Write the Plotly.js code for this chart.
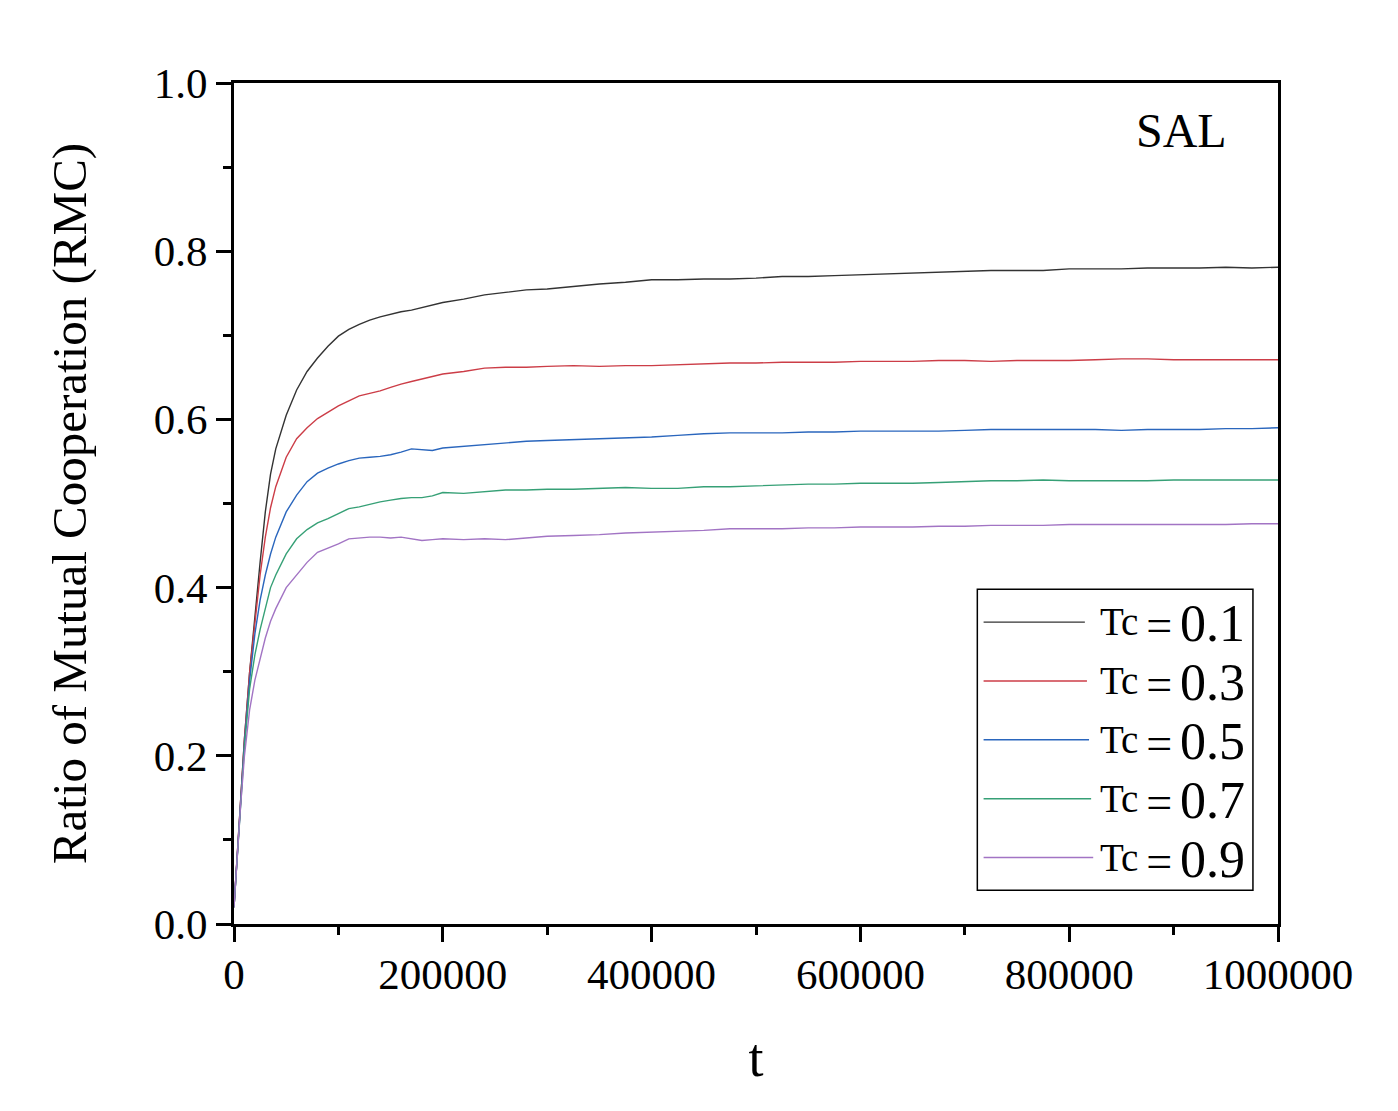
<!DOCTYPE html>
<html>
<head>
<meta charset="utf-8">
<script src="https://cdn.plot.ly/plotly-3.0.1.min.js"></script>
<style>
  html, body { margin: 0; padding: 0; background: #fff; }
  #chart { width: 1398px; height: 1111px; }
</style>
</head>
<body>
<div id="chart"></div>
<script>
// time steps (t)
const T = [
  0, 3000, 6000, 10000, 15000, 20000, 25000, 30000, 35000, 40000,
  50000, 60000, 70000, 80000, 90000, 100000, 110000, 120000, 130000, 140000,
  150000, 160000, 170000, 180000, 190000, 200000, 220000, 240000, 260000, 280000,
  300000, 325000, 350000, 375000, 400000, 425000, 450000, 475000, 500000, 525000,
  550000, 575000, 600000, 625000, 650000, 675000, 700000, 725000, 750000, 775000,
  800000, 825000, 850000, 875000, 900000, 925000, 950000, 975000, 1000000
];

// RMC per Tc
const RMC_01 = [
  0.02, 0.08, 0.14, 0.22, 0.30, 0.37, 0.43, 0.49, 0.535, 0.565,
  0.605, 0.635, 0.657, 0.673, 0.687, 0.699, 0.707, 0.713, 0.718, 0.722,
  0.725, 0.728, 0.730, 0.733, 0.736, 0.739, 0.743, 0.748, 0.751, 0.754,
  0.755, 0.758, 0.761, 0.763, 0.766, 0.766, 0.767, 0.767, 0.768, 0.770,
  0.770, 0.771, 0.772, 0.773, 0.774, 0.775, 0.776, 0.777, 0.777, 0.777,
  0.779, 0.779, 0.779, 0.780, 0.780, 0.780, 0.781, 0.780, 0.781
];
const RMC_03 = [
  0.02, 0.08, 0.14, 0.22, 0.30, 0.36, 0.415, 0.46, 0.495, 0.52,
  0.555, 0.577, 0.59, 0.601, 0.609, 0.616, 0.622, 0.628, 0.631, 0.634,
  0.638, 0.642, 0.645, 0.648, 0.651, 0.654, 0.657, 0.661, 0.662, 0.662,
  0.663, 0.664, 0.663, 0.664, 0.664, 0.665, 0.666, 0.667, 0.667, 0.668,
  0.668, 0.668, 0.669, 0.669, 0.669, 0.670, 0.670, 0.669, 0.670, 0.670,
  0.670, 0.671, 0.672, 0.672, 0.671, 0.671, 0.671, 0.671, 0.671
];
const RMC_05 = [
  0.02, 0.08, 0.14, 0.215, 0.29, 0.345, 0.385, 0.415, 0.44, 0.46,
  0.49, 0.51, 0.526, 0.536, 0.542, 0.547, 0.551, 0.554, 0.555, 0.556,
  0.558, 0.561, 0.565, 0.564, 0.563, 0.566, 0.568, 0.570, 0.572, 0.574,
  0.575, 0.576, 0.577, 0.578, 0.579, 0.581, 0.583, 0.584, 0.584, 0.584,
  0.585, 0.585, 0.586, 0.586, 0.586, 0.586, 0.587, 0.588, 0.588, 0.588,
  0.588, 0.588, 0.587, 0.588, 0.588, 0.588, 0.589, 0.589, 0.590
];
const RMC_07 = [
  0.02, 0.08, 0.14, 0.21, 0.28, 0.32, 0.35, 0.375, 0.40, 0.415,
  0.44, 0.458, 0.469, 0.477, 0.482, 0.488, 0.494, 0.496, 0.499, 0.502,
  0.504, 0.506, 0.507, 0.507, 0.509, 0.513, 0.512, 0.514, 0.516, 0.516,
  0.517, 0.517, 0.518, 0.519, 0.518, 0.518, 0.520, 0.520, 0.521, 0.522,
  0.523, 0.523, 0.524, 0.524, 0.524, 0.525, 0.526, 0.527, 0.527, 0.528,
  0.527, 0.527, 0.527, 0.527, 0.528, 0.528, 0.528, 0.528, 0.528
];
const RMC_09 = [
  0.02, 0.08, 0.135, 0.20, 0.255, 0.29, 0.315, 0.34, 0.36, 0.375,
  0.40, 0.415, 0.43, 0.442, 0.447, 0.452, 0.458, 0.459, 0.460, 0.460,
  0.459, 0.460, 0.458, 0.456, 0.457, 0.458, 0.457, 0.458, 0.457, 0.459,
  0.461, 0.462, 0.463, 0.465, 0.466, 0.467, 0.468, 0.470, 0.470, 0.470,
  0.471, 0.471, 0.472, 0.472, 0.472, 0.473, 0.473, 0.474, 0.474, 0.474,
  0.475, 0.475, 0.475, 0.475, 0.475, 0.475, 0.475, 0.476, 0.476
];

const TC_LABELS = ["0.1", "0.3", "0.5", "0.7", "0.9"];
const SERIES = [RMC_01, RMC_03, RMC_05, RMC_07, RMC_09];
const COLORS = ["#333333", "#cc3d47", "#2a66bd", "#36a076", "#a274c4"];

const X_TICKS = [0, 200000, 400000, 600000, 800000, 1000000];
const Y_TICKS = [0, 0.2, 0.4, 0.6, 0.8, 1.0];

const FONT = "'Liberation Serif', 'Times New Roman', serif";

const traces = SERIES.map((ys, i) => ({
  x: T,
  y: ys,
  type: "scatter",
  mode: "lines",
  name: "Tc = " + TC_LABELS[i],
  line: { color: COLORS[i], width: 1.4 },
  showlegend: false,
}));

// ── hand-drawn legend box (long sample lines like the original) ──────────────
const shapes = [{
  type: "rect", xref: "paper", yref: "paper",
  x0: 0.712, x1: 0.976, y0: 0.040, y1: 0.398,
  line: { color: "#000", width: 1.5 }, fillcolor: "rgba(0,0,0,0)",
}];
const annotations = [{
  xref: "paper", yref: "paper", x: 0.908, y: 0.944,
  xanchor: "center", yanchor: "middle",
  text: "SAL", showarrow: false,
  font: { family: FONT, size: 48, color: "#000" },
}];
const rowTop = 0.359, rowStep = 0.070;
const THIN = "\u2009";
TC_LABELS.forEach((lab, i) => {
  const yy = rowTop - i * rowStep;
  shapes.push({
    type: "line", xref: "paper", yref: "paper",
    x0: 0.718, x1: 0.815 + i * 0.002, y0: yy, y1: yy,
    line: { color: COLORS[i], width: 1.4 },
  });
  annotations.push({
    xref: "paper", yref: "paper", x: 0.970, y: yy - 0.002,
    xanchor: "right", yanchor: "middle",
    text: "<span style='baseline-shift:6px'>Tc</span>" + THIN +
      "<span style='font-size:46px'>=</span>" + THIN +
      "<span style='font-size:52px'>" + lab + "</span>",
    showarrow: false,
    font: { family: FONT, size: 39, color: "#000" },
  });
});

const axisCommon = {
  showline: true, linecolor: "#000", linewidth: 3, mirror: true,
  ticks: "outside", ticklen: 15, tickwidth: 3, tickcolor: "#000",
  showgrid: false, zeroline: false,
  tickfont: { family: FONT, size: 43, color: "#000" },
};

const layout = {
  width: 1398, height: 1111,
  margin: { l: 234, r: 120, t: 83, b: 187 },
  paper_bgcolor: "#fff", plot_bgcolor: "#fff",
  font: { family: FONT, color: "#000" },
  showlegend: false,
  xaxis: {
    ...axisCommon,
    range: [0, 1000000],
    tickvals: X_TICKS, tickformat: "d",
    ticklabelstandoff: -5,
    minor: { dtick: 100000, ticks: "outside", ticklen: 8, tickwidth: 3, tickcolor: "#000" },
    title: { text: "t", font: { family: FONT, size: 54, color: "#000" }, standoff: 42 },
  },
  yaxis: {
    ...axisCommon,
    range: [0, 1],
    tickvals: Y_TICKS, tickformat: ".1f",
    minor: { dtick: 0.1, ticks: "outside", ticklen: 8, tickwidth: 3, tickcolor: "#000" },
    title: { text: "Ratio of Mutual Cooperation (RMC)", font: { family: FONT, size: 49, color: "#000" }, standoff: 52 },
  },
  shapes,
  annotations,
};

Plotly.newPlot("chart", traces, layout, { displayModeBar: false, staticPlot: true });
</script>
</body>
</html>
